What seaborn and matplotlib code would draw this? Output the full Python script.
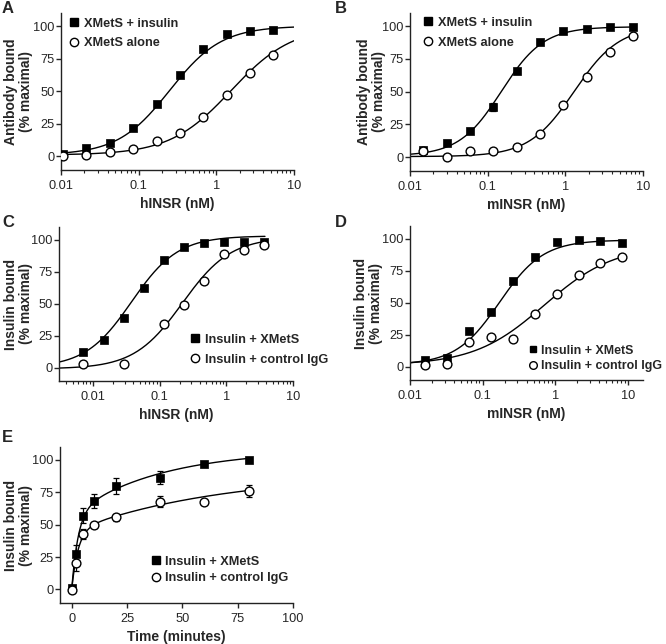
import numpy as np
import matplotlib
matplotlib.use("Agg")
import matplotlib.pyplot as plt
import seaborn as sns
from matplotlib.lines import Line2D

sns.set_style("ticks")
plt.rcParams["font.family"] = ["Liberation Sans", "DejaVu Sans"]
plt.rcParams["font.size"] = 9

# ---- data ----
# A: hINSR titration, antibody binding
a_x = [0.0106, 0.0212, 0.0424, 0.085, 0.17, 0.34, 0.68, 1.36, 2.71, 5.43]
a_sq = [1.8, 6.4, 10, 22, 40, 62.5, 82, 94, 96, 97]
a_ci = [0.5, 1, 3, 5.7, 11.6, 18, 30, 47, 64, 78]
a_fit_sq = dict(bottom=1, top=100, ec50=0.25, hill=1.3)
a_fit_ci = dict(bottom=1, top=100, ec50=1.55, hill=1.1)

# B: mINSR titration, antibody binding
b_x = [0.0148, 0.0297, 0.059, 0.118, 0.237, 0.47, 0.94, 1.88, 3.75, 7.5]
b_sq = [5.7, 11, 20, 38, 65.5, 88, 96, 98, 99, 99.5]
b_sq_err = [0, 0, 0, 3, 0, 0, 0, 0, 0, 0]
b_ci = [4.4, 0, 4.4, 5, 7.7, 18, 39.6, 61.5, 80, 92.5]
b_fit_sq = dict(bottom=1, top=99.5, ec50=0.15, hill=1.6)
b_fit_ci = dict(bottom=0.5, top=100, ec50=1.3, hill=1.5)

# C: hINSR titration, insulin binding
c_x = [0.0072, 0.0145, 0.029, 0.058, 0.116, 0.23, 0.46, 0.93, 1.85, 3.7]
c_sq = [12, 21.8, 39, 62, 84, 94.4, 97.4, 98.2, 98.2, 98.2]
c_ci = [3, np.nan, 3, np.nan, 34, 49, 68, 89, 92, 96]
c_fit_sq = dict(bottom=0, top=103, ec50=0.038, hill=1.25)
c_fit_ci = dict(bottom=-1, top=102, ec50=0.22, hill=1.2)

# D: mINSR titration, insulin binding
d_x = [0.0163, 0.0325, 0.065, 0.13, 0.26, 0.52, 1.04, 2.08, 4.16, 8.3]
d_sq = [5, 7, 28, 43, 67, 86, 97.4, 98.7, 98.2, 97]
d_ci = [1, 2, 19, 23, 21.6, 41.5, 56.7, 72, 80.7, 86]
d_fit_sq = dict(bottom=1.5, top=99, ec50=0.17, hill=1.45)
d_fit_ci = dict(bottom=1, top=95, ec50=0.7, hill=0.9)

# E: time course
e_t = [0, 2, 5, 10, 20, 40, 60, 80]
e_sq = [0.8, 27.6, 57, 68, 80, 86.3, 97, 100]
e_sq_err = [1, 7, 6, 5.4, 6, 5, 1.5, 1.5]
e_ci = [-0.8, 20.7, 42.6, 49.6, 55.6, 67.7, 67.7, 76]
e_ci_err = [1, 6.5, 4, 2, 3, 4.3, 1.5, 4.5]
e_fit_sq = dict(a=58, k1=0.35, b=50, k2=0.025)
e_fit_ci = dict(a=45, k1=0.35, b=45, k2=0.015)

legend_ab = ["XMetS + insulin", "XMetS alone"]
legend_ins = ["Insulin + XMetS", "Insulin + control IgG"]


def hill(x, bottom, top, ec50, hill):
    x = np.asarray(x)
    return bottom + (top - bottom) / (1 + (ec50 / x) ** hill)


def two_phase(t, a, k1, b, k2):
    t = np.asarray(t)
    return a * (1 - np.exp(-k1 * t)) + b * (1 - np.exp(-k2 * t))


fig = plt.figure(figsize=(6.66, 6.44), dpi=100)
W, H = 666, 644


def add_ax(x0, y0, x1, y1):
    return fig.add_axes([x0 / W, 1 - y1 / H, (x1 - x0) / W, (y1 - y0) / H])


ax_a = add_ax(61, 13, 294, 170)
ax_b = add_ax(410, 13, 643, 171)
ax_c = add_ax(59, 227, 293, 381)
ax_d = add_ax(410, 226, 643, 380)
ax_e = add_ax(60, 447, 293, 603)

MS = 34


def points(ax, x, y, filled, yerr=None):
    if yerr is not None:
        ax.errorbar(x, y, yerr=yerr, fmt="none", ecolor="black",
                    elinewidth=0.9, capsize=2.5, capthick=0.9, zorder=3)
    if filled:
        sns.scatterplot(x=x, y=y, ax=ax, marker="s", color="black",
                        edgecolor="black", s=MS, linewidth=0.5, zorder=4)
    else:
        sns.scatterplot(x=x, y=y, ax=ax, marker="o", color="white",
                        edgecolor="black", s=MS + 6, linewidth=1.0, zorder=5)


def curve(ax, x, y):
    sns.lineplot(x=x, y=y, ax=ax, color="black", linewidth=1.0, zorder=2)


def style_log(ax, xlim, xlabel, ylabel, ylab_x):
    ax.set_xscale("log")
    ax.set_xlim(*xlim)
    ax.set_xticks([0.01, 0.1, 1, 10])
    ax.set_xticklabels(["0.01", "0.1", "1", "10"])
    style_common(ax, xlabel, ylabel, ylab_x)


def style_common(ax, xlabel, ylabel, ylab_x):
    ax.set_ylim(-10.5, 110)
    ax.set_yticks([0, 25, 50, 75, 100])
    ax.set_xlabel(xlabel, fontsize=10, fontweight="bold", labelpad=4)
    ax.set_ylabel(ylabel, fontsize=10, fontweight="bold", linespacing=1.1)
    ax.yaxis.set_label_coords(ylab_x, 0.5)
    ax.tick_params(which="major", length=3.6, width=1, labelsize=9.2)
    ax.tick_params(axis="x", which="major", pad=3.5)
    ax.tick_params(axis="y", which="major", pad=1.2)
    ax.tick_params(which="minor", length=2.2, width=0.8)
    for s in ["top", "right"]:
        ax.spines[s].set_visible(False)
    for s in ["left", "bottom"]:
        ax.spines[s].set_linewidth(1.0)
        ax.spines[s].set_color("#222222")


def legend(ax, labels, anchor, loc, spacing=0.55, size=9.2, ms=5.5, pad=0.4):
    h = [Line2D([], [], marker="s", color="black", ls="none", markersize=ms),
         Line2D([], [], marker="o", mfc="white", mec="black", ls="none",
                markersize=ms + 0.5, mew=1.0)]
    ax.legend(h, labels, loc=loc, bbox_to_anchor=anchor, frameon=False,
              prop={"weight": "bold", "size": size}, handlelength=0.8,
              handletextpad=pad, labelspacing=spacing, borderaxespad=0,
              borderpad=0)


# panel A
xa = np.logspace(-2, 1, 200)
curve(ax_a, xa, hill(xa, **a_fit_sq))
curve(ax_a, xa, hill(xa, **a_fit_ci))
points(ax_a, a_x, a_ci, False)
points(ax_a, a_x, a_sq, True)
style_log(ax_a, (0.01, 10), "hINSR (nM)", "Antibody bound\n(% maximal)", -0.12)
legend(ax_a, legend_ab, (0.035, 0.97), "upper left", spacing=0.6)

# panel B
xb = np.logspace(-2, np.log10(7.5), 200)
curve(ax_b, xb, hill(xb, **b_fit_sq))
curve(ax_b, xb, hill(xb, **b_fit_ci))
points(ax_b, b_x, b_ci, False)
points(ax_b, b_x, b_sq, True, yerr=b_sq_err)
style_log(ax_b, (0.01, 10), "mINSR (nM)", "Antibody bound\n(% maximal)", -0.103)
legend(ax_b, legend_ab, (0.055, 0.975), "upper left", spacing=0.6)

# panel C
xc = np.logspace(np.log10(0.0031), np.log10(3.8), 200)
curve(ax_c, xc, hill(xc, **c_fit_sq))
curve(ax_c, xc, hill(xc, **c_fit_ci))
points(ax_c, c_x, c_ci, False)
points(ax_c, c_x, c_sq, True)
style_log(ax_c, (0.0031, 10), "hINSR (nM)", "Insulin bound\n(% maximal)", -0.111)
legend(ax_c, legend_ins, (0.56, 0.10), "lower left", spacing=0.6)

# panel D
xd = np.logspace(-2, np.log10(8.3), 200)
curve(ax_d, xd, hill(xd, **d_fit_sq))
curve(ax_d, xd, hill(xd, **d_fit_ci))
points(ax_d, d_x, d_ci, False)
points(ax_d, d_x, d_sq, True)
style_log(ax_d, (0.01, 16), "mINSR (nM)", "Insulin bound\n(% maximal)", -0.116)
legend(ax_d, legend_ins, (0.505, 0.05), "lower left", spacing=0.3, size=8.9,
       ms=5, pad=0.25)

# panel E
te = np.linspace(0, 80, 300)
curve(ax_e, te, two_phase(te, **e_fit_sq))
curve(ax_e, te, two_phase(te, **e_fit_ci))
points(ax_e, e_t, e_ci, False, yerr=e_ci_err)
points(ax_e, e_t, e_sq, True, yerr=e_sq_err)
ax_e.set_xlim(-5.3, 100)
ax_e.set_xticks([0, 25, 50, 75, 100])
style_common(ax_e, "Time (minutes)", "Insulin bound\n(% maximal)", -0.116)
legend(ax_e, legend_ins, (0.39, 0.12), "lower left", spacing=0.35, pad=0.3)

# panel letters
for lab, (px, py) in {"A": (2, 1), "B": (335, 1), "C": (2, 215),
                      "D": (335, 215), "E": (2, 430)}.items():
    fig.text(px / W, 1 - py / H, lab, fontsize=12, fontweight="bold",
             va="top", ha="left")

fig.savefig("out.png", dpi=100)
